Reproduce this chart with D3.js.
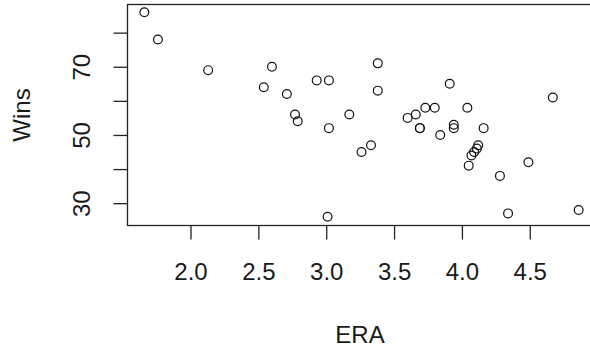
<!DOCTYPE html>
<html>
<head>
<meta charset="utf-8">
<script src="https://cdn.jsdelivr.net/npm/d3@7"></script>
<style>
  body { margin: 0; background: #fff; }
  text { font-family: "Liberation Sans", Arial, sans-serif; fill: #1a1a1a; }
</style>
</head>
<body>
<script>
// ERA vs Wins scatter

var era  = [1.66, 1.76, 2.13, 2.60, 2.54, 2.71, 2.77, 2.79, 2.93, 3.02,
            3.02, 3.01, 3.17, 3.38, 3.38, 3.26, 3.33, 3.60, 3.66, 3.73,
            3.80, 3.69, 3.69, 3.91, 3.84, 3.94, 3.94, 4.04, 4.16, 4.12,
            4.11, 4.09, 4.07, 4.05, 4.28, 4.34, 4.49, 4.67, 4.86];
var wins = [86, 78, 69, 70, 64, 62, 56, 54, 66, 66,
            52, 26, 56, 71, 63, 45, 47, 55, 56, 58,
            58, 52, 52, 65, 50, 53, 52, 58, 52, 47,
            46, 45, 44, 41, 38, 27, 42, 61, 28];
var xTicks = [2.0, 2.5, 3.0, 3.5, 4.0, 4.5];
var yTicks = [30, 40, 50, 60, 70, 80];
var yLabeled = [30, 50, 70];

var width = 590, height = 350;
var box = { left: 127, top: 4, right: 596, bottom: 225 };
var fontSize = "24px";

var svg = d3.select("body").append("svg")
    .attr("width", width)
    .attr("height", height);

// R style: pad the data range by 4%
var xr = d3.extent(era), yr = d3.extent(wins);
var xPad = (xr[1] - xr[0]) * 0.04, yPad = (yr[1] - yr[0]) * 0.04;

var x = d3.scaleLinear().domain([xr[0] - xPad, xr[1] + xPad]).range([box.left, box.right]);
var y = d3.scaleLinear().domain([yr[0] - yPad, yr[1] + yPad]).range([box.bottom, box.top]);

// frame
svg.append("rect")
    .attr("x", box.left + 0.5)
    .attr("y", box.top + 0.5)
    .attr("width", box.right - box.left)
    .attr("height", box.bottom - box.top)
    .style("fill", "none")
    .style("stroke", "#222")
    .style("stroke-width", 1.3);

// x axis
var xAxis = svg.append("g")
    .attr("transform", "translate(0," + (box.bottom + 0.5) + ")")
    .call(d3.axisBottom(x).tickValues(xTicks).tickFormat(d3.format(".1f")).tickSize(14));
xAxis.select(".domain").remove();
xAxis.selectAll("line").style("stroke", "#222").style("stroke-width", 1.3);
xAxis.selectAll("text")
    .style("font-size", fontSize).style("fill", "#1a1a1a")
    .style("font-family", "'Liberation Sans', Arial, sans-serif")
    .attr("y", 280 - box.bottom - 0.5)
    .attr("dy", null);

// y axis
var yAxis = svg.append("g")
    .attr("transform", "translate(" + (box.left + 0.5) + ",0)")
    .call(d3.axisLeft(y).tickValues(yTicks).tickSize(14).tickFormat(function(d) { return yLabeled.indexOf(d) >= 0 ? d : ""; }));
yAxis.select(".domain").remove();
yAxis.selectAll("line").style("stroke", "#222").style("stroke-width", 1.3);
yAxis.selectAll("text")
    .style("font-size", fontSize).style("fill", "#1a1a1a")
    .style("font-family", "'Liberation Sans', Arial, sans-serif")
    .attr("x", 0)
    .attr("dy", null)
    .attr("text-anchor", "middle")
    .attr("transform", "translate(" + (90 - box.left - 0.5) + ",0) rotate(-90)");

// titles
svg.append("text")
    .attr("x", 360)
    .attr("y", 343)
    .attr("text-anchor", "middle")
    .style("font-size", fontSize)
    .text("ERA");

svg.append("text")
    .attr("transform", "translate(30,115) rotate(-90)")
    .attr("text-anchor", "middle")
    .style("font-size", fontSize)
    .text("Wins");

// points
svg.selectAll(".pt")
    .data(era)
    .enter().append("circle")
        .attr("class", "pt")
        .attr("cx", function(d) { return x(d); })
        .attr("cy", function(d, i) { return y(wins[i]); })
        .attr("r", 4.4)
        .style("fill", "none")
        .style("stroke", "#111")
        .style("stroke-width", 1.2);
</script>
</body>
</html>
